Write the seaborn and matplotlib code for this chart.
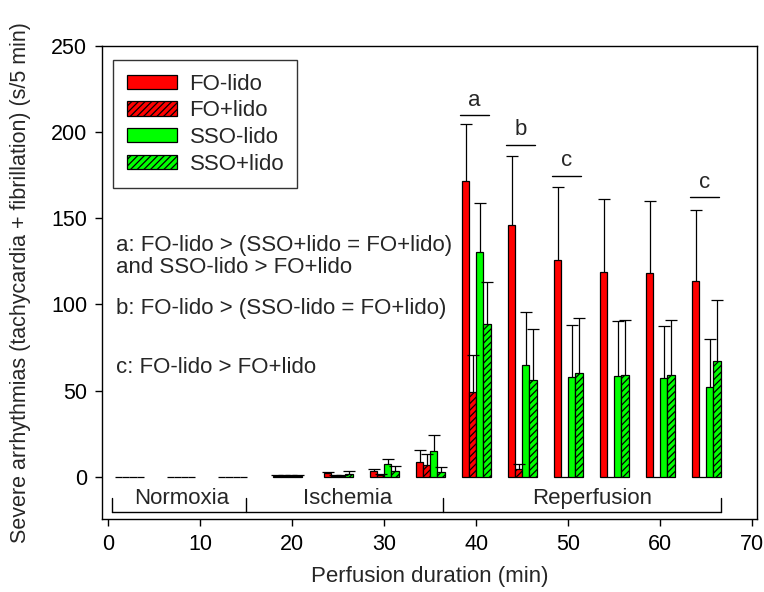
import numpy as np
import pandas as pd
import matplotlib
matplotlib.use("Agg")
import matplotlib.pyplot as plt
import seaborn as sns

# ---------------- data ----------------
times = [2.3, 7.9, 13.5, 19.5, 25, 30, 35, 40, 45, 50, 55, 60, 65]
groups = ["FO-lido", "FO+lido", "SSO-lido", "SSO+lido"]

fo_minus = [0, 0, 0, 0.3, 2.0, 3.1, 8.3, 171.8, 146.0, 125.8, 118.6, 118.0, 113.4]
fo_minus_err = [0, 0, 0, 0.7, 0.5, 1.2, 7.0, 33.2, 40.3, 42.5, 42.8, 41.8, 41.4]
fo_plus = [0, 0, 0, 0.2, 0.5, 1.2, 7.0, 49.0, 4.5, 0, 0, 0, 0]
fo_plus_err = [0, 0, 0, 0.6, 0.5, 0.6, 6.3, 21.8, 3.2, 0, 0, 0, 0]
sso_minus = [0, 0, 0, 0.3, 0.5, 7.3, 15.1, 130.2, 64.8, 58.2, 58.6, 57.1, 51.9]
sso_minus_err = [0, 0, 0, 0.5, 0.5, 3.3, 9.0, 28.5, 30.6, 30.0, 31.6, 30.2, 28.0]
sso_plus = [0, 0, 0, 0.2, 1.5, 3.5, 2.9, 88.6, 56.3, 60.0, 59.2, 59.2, 67.3]
sso_plus_err = [0, 0, 0, 0.6, 1.8, 2.7, 2.5, 24.4, 29.4, 31.9, 31.9, 31.9, 35.3]

phases = ["Normoxia", "Ischemia", "Reperfusion"]
phase_bounds = [0.36, 15.0, 36.4, 66.6]
phase_text_x = [8.0, 26.0, 52.6]

sig_x = [40, 45, 50, 65]
sig_y = [210.0, 192.7, 174.7, 162.1]
sig_lab = ["a", "b", "c", "c"]

notes = ["a: FO-lido > (SSO+lido = FO+lido)",
         "and SSO-lido > FO+lido",
         "b: FO-lido > (SSO-lido = FO+lido)",
         "c: FO-lido > FO+lido"]
notes_y = [134.3, 121.7, 97.9, 63.7]

colors = {"FO-lido": "#ff0000", "FO+lido": "#ff0000",
          "SSO-lido": "#00ff00", "SSO+lido": "#00ff00"}
hatched = {"FO-lido": False, "FO+lido": True, "SSO-lido": False, "SSO+lido": True}

means = {"FO-lido": fo_minus, "FO+lido": fo_plus, "SSO-lido": sso_minus, "SSO+lido": sso_plus}
errs = {"FO-lido": fo_minus_err, "FO+lido": fo_plus_err,
        "SSO-lido": sso_minus_err, "SSO+lido": sso_plus_err}

rows = []
for g in groups:
    for t, v in zip(times, means[g]):
        rows.append({"time": t, "group": g, "value": v})
df = pd.DataFrame(rows)

# ---------------- style ----------------
sns.set_style("ticks")
plt.rcParams["font.family"] = ["Liberation Sans", "DejaVu Sans"]
plt.rcParams["hatch.color"] = "black"
plt.rcParams["hatch.linewidth"] = 0.9

fig = plt.figure(figsize=(7.64, 5.92), dpi=100)
ax = fig.add_axes([0.1331, 0.1233, 0.8577, 0.7990])

sns.barplot(data=df, x="time", y="value", hue="group", hue_order=groups,
            palette=colors, native_scale=True, width=0.62, errorbar=None,
            saturation=1, edgecolor="black", linewidth=0.9, legend=False, ax=ax)

bar_containers = list(ax.containers)
for g, cont in zip(groups, bar_containers):
    if hatched[g]:
        for p in cont.patches:
            p.set_hatch("/////")

leg = ax.legend(handles=bar_containers, labels=groups, loc="upper left",
                bbox_to_anchor=(0.0177, 0.970), borderaxespad=0, fontsize=16,
                handlelength=2.28, handleheight=0.6, handletextpad=0.55,
                borderpad=0.6, labelspacing=0.26, fancybox=False, frameon=True)
leg.get_frame().set_edgecolor("black")
leg.get_frame().set_linewidth(1.0)

# error bars (upper only), positioned from the drawn bars
for g, cont in zip(groups, bar_containers):
    xs = np.array([p.get_x() + p.get_width() / 2 for p in cont.patches])
    ys = np.array([p.get_height() for p in cont.patches])
    e = np.array(errs[g])
    m = e > 0
    ax.errorbar(xs[m], ys[m], yerr=[np.zeros(m.sum()), e[m]], fmt="none",
                ecolor="black", elinewidth=0.9, capsize=0, zorder=1)
    ax.plot(xs[m], ys[m] + e[m], ls="none", marker="_", ms=8.5, mew=0.9,
            color="black", zorder=1)

# significance markers
for x, y, lab in zip(sig_x, sig_y, sig_lab):
    ax.plot([x - 1.75, x + 1.35], [y, y], color="black", lw=1.0)
    ax.text(x - 0.2, y + 2.5, lab, ha="center", va="bottom", fontsize=16)

# notes
for txt, y in zip(notes, notes_y):
    ax.text(0.84, y, txt, ha="left", va="center", fontsize=16)

# phase bracket
yb, yt = -20.7, -12.4
ax.plot([phase_bounds[0], phase_bounds[-1]], [yb, yb], color="black", lw=1.0)
for xb in phase_bounds:
    ax.plot([xb, xb], [yb, yt], color="black", lw=1.0)
for name, xt in zip(phases, phase_text_x):
    ax.text(xt, -12.8, name, ha="center", va="center", fontsize=16)

ax.set_xlim(-0.72, 70.5)
ax.set_ylim(-24.5, 250)
ax.set_xticks(range(0, 71, 10))
ax.set_yticks(range(0, 251, 50))
ax.tick_params(direction="out", length=5, width=1.0, labelsize=15.5, pad=5.5, colors="black")
for s in ax.spines.values():
    s.set_visible(True)
    s.set_linewidth(1.0)
    s.set_color("black")

ax.set_xlabel("Perfusion duration (min)", fontsize=16)
ax.set_ylabel("Severe arrhythmias (tachycardia + fibrillation) (s/5 min)", fontsize=15.5)
ax.xaxis.set_label_coords(0.5, -0.1)
ax.yaxis.set_label_coords(-0.108, 0.5)

fig.savefig("out.png", dpi=100)
